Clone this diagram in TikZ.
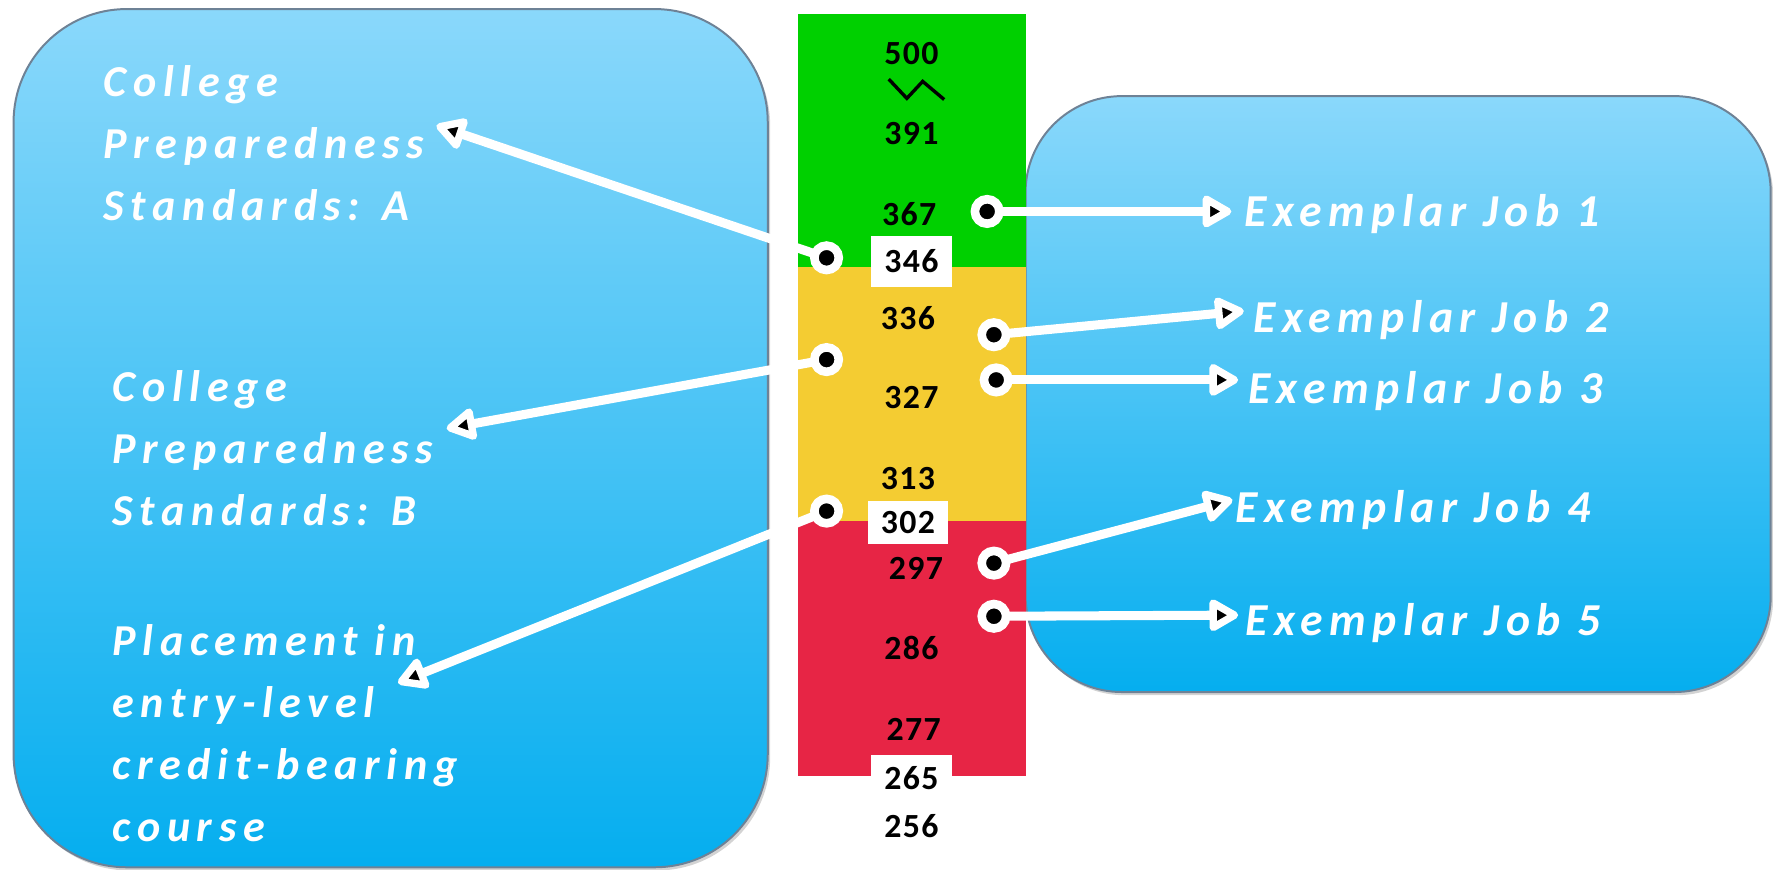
\documentclass[tikz,border=0pt]{standalone}
\usepackage{fontspec}
\setmainfont{Carlito}
\newfontfamily\lblfont[LetterSpace=15]{Carlito}
\newfontfamily\jobfont[LetterSpace=14]{Carlito}
\newfontfamily\numfont[LetterSpace=4]{Carlito}
\usetikzlibrary{arrows.meta,shadows}
\definecolor{boxtop}{RGB}{138,216,251}
\definecolor{boxbot}{RGB}{5,174,239}
\definecolor{boxedge}{RGB}{110,130,150}
\definecolor{bandgreen}{RGB}{0,208,0}
\definecolor{bandyellow}{RGB}{244,204,50}
\definecolor{bandred}{RGB}{231,37,69}
\pgfdeclarelayer{bg}
\pgfdeclarelayer{conn}
\pgfsetlayers{bg,conn,main}
\begin{document}
\begin{tikzpicture}[x=0.01cm,y=-0.01cm,
  panel/.style={top color=boxtop, bottom color=boxbot, draw=boxedge, line width=0.5pt,
    drop shadow={shadow xshift=0.6pt, shadow yshift=-0.8pt, opacity=0.35}},
  lbl/.style={anchor=west, inner sep=0pt, align=left, text=white,
    font=\lblfont\bfseries\itshape\fontsize{11.1}{15.6}\selectfont},
  job/.style={anchor=west, inner sep=0pt, text=white,
    font=\jobfont\bfseries\itshape\fontsize{11.5}{14}\selectfont},
  num/.style={inner sep=0pt, text=black, font=\numfont\bfseries\fontsize{8.5}{10}\selectfont},
  numbox/.style={num, fill=white, minimum width=0.72cm},
  ringdot/.style={circle, fill=black, draw=white, line width=0.076cm, minimum size=0.216cm, inner sep=0pt},
  link/.style={draw=white, line width=0.08cm,
    -{Triangle[length=0.29cm, width=0.31cm, line width=0.065cm, round, fill=black]}}
]
\useasboundingbox (0,0) rectangle (1568,769);

\begin{pgfonlayer}{bg}
  % panels
  \path[panel, rounded corners=1cm] (12,8) rectangle (679,767);
  \path[panel, rounded corners=0.85cm] (907,85) rectangle (1566,612);
  % scale bands
  \fill[bandgreen]  (706,12)  rectangle (907,236);
  \fill[bandyellow] (706,236) rectangle (907,461);
  \fill[bandred]    (706,461) rectangle (907,686);
  % zigzag break mark
  \draw[black, line width=0.03cm, line join=miter] (786,70) -- (802,87) -- (816,72) -- (835,88);
\end{pgfonlayer}

% scale numbers
\node[num] (n500) at (806,47) {500};
\node[num] (n391) at (806,118) {391};
\node[num] (n367) at (804,189) {367};
\node[numbox, minimum height=0.45cm] (n346) at (806,231) {346};
\node[num] (n336) at (803,281) {336};
\node[num] (n327) at (806,352) {327};
\node[num] (n313) at (803,423) {313};
\node[numbox, minimum width=0.71cm, minimum height=0.38cm] (n302) at (803,462) {302};
\node[num] (n297) at (810,503) {297};
\node[num] (n286) at (806,573) {286};
\node[num] (n277) at (808,645) {277};
\node[numbox, minimum height=0.40cm] (n265) at (806,688) {265};
\node[num] (n256) at (806,731) {256};

% left texts
\node[lbl] (stA) at (91,127) {College\\Preparedness\\Standards: A};
\node[lbl] (stB) at (99,396) {College\\Preparedness\\Standards: B};
\node[lbl] (place) at (99,648) {Placement in\\entry-level\\credit-bearing\\course};

% right texts
\node[job] (job1) at (1100,189) {Exemplar Job 1};
\node[job] (job2) at (1108,283) {Exemplar Job 2};
\node[job] (job3) at (1103,346) {Exemplar Job 3};
\node[job] (job4) at (1092,451) {Exemplar Job 4};
\node[job] (job5) at (1101,551) {Exemplar Job 5};

% dots
\node[ringdot] (dA) at (731,228) {};
\node[ringdot] (dB) at (731,318) {};
\node[ringdot] (dC) at (731,452) {};
\node[ringdot] (d1) at (873,187) {};
\node[ringdot] (d2) at (879,296) {};
\node[ringdot] (d3) at (881,336) {};
\node[ringdot] (d4) at (879,498) {};
\node[ringdot] (d5) at (879,545) {};

% arrow tips
\coordinate (tA) at (386,111);
\coordinate (tB) at (395,379);
\coordinate (tC) at (352,604);
\coordinate (t1) at (1089,187);
\coordinate (t2) at (1100,275);
\coordinate (t3) at (1095,336);
\coordinate (t4) at (1090,442);
\coordinate (t5) at (1095,544);

\begin{pgfonlayer}{conn}
  \draw[link] (dA.center) -- (tA);
  \draw[link] (dB.center) -- (tB);
  \draw[link] (dC.center) -- (tC);
  \draw[link] (d1.center) -- (t1);
  \draw[link] (d2.center) -- (t2);
  \draw[link] (d3.center) -- (t3);
  \draw[link] (d4.center) -- (t4);
  \draw[link] (d5.center) -- (t5);
\end{pgfonlayer}
\end{tikzpicture}
\end{document}
